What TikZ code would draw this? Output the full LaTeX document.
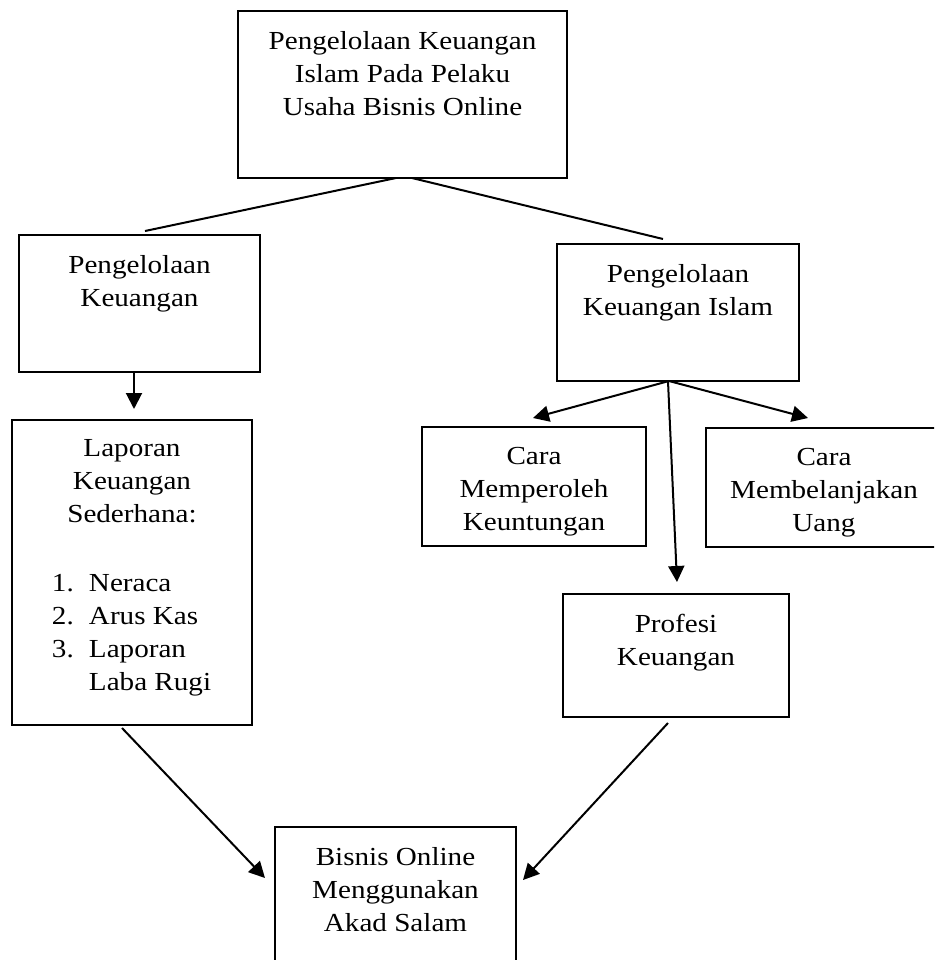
\documentclass[tikz,border=0pt]{standalone}
\usepackage{fontspec}
\setmainfont{Liberation Serif}[FakeStretch=1.12]
\usepackage{tikz}
\usetikzlibrary{arrows.meta,positioning}
\tikzset{huruf/.style={font=\fontsize{13}{16.5}\selectfont}}
\tikzset{kotak/.style={draw, line width=1pt, inner sep=0, outer sep=0}}
\tikzset{teks/.style={inner sep=0, outer sep=0, align=center, huruf}}
\tikzset{garis/.style={line width=1pt}}
\tikzset{panah/.style={-{Triangle[length=8pt, width=8pt]}, line width=1pt}}

\begin{document}
\begin{tikzpicture}[x=0.5pt, y=-0.5pt]
            \useasboundingbox (0,0) rectangle (934,960);
            \clip (0,0) rectangle (934,960);

            \node[kotak, minimum width=164.5pt, minimum height=83.5pt] (atas) at (402.5,94.5) {};

            \node[kotak, minimum width=120.5pt, minimum height=68.5pt, below=28.5pt of atas.south, xshift=-131.5pt] (kiri) {};
            \node[kotak, minimum width=121pt, minimum height=68.5pt, below=33pt of atas.south, xshift=137.75pt] (kanan) {};

            \node[kotak, minimum width=120pt, minimum height=152.5pt, below=24pt of kiri.south, xshift=-3.75pt] (laporan) {};

            \node[kotak, minimum width=112pt, minimum height=59.5pt, below=23pt of kanan.south, xshift=-72pt] (peroleh) {};
            \node[kotak, minimum width=118pt, minimum height=59.5pt, below=23.5pt of kanan.south, xshift=73pt] (belanja) {};
            \node[kotak, minimum width=113pt, minimum height=61.5pt, below=106.5pt of kanan.south, xshift=-1pt] (profesi) {};

            \node[kotak, minimum width=120.5pt, minimum height=81.5pt, below=51pt of laporan.south, xshift=131.75pt] (bisnis) {};

            \node[teks, below=10pt of atas.north] (t-atas) {Pengelolaan Keuangan\\Islam Pada Pelaku\\Usaha Bisnis Online};
            \node[teks, below=10pt of kiri.north] (t-kiri) {Pengelolaan\\Keuangan};
            \node[teks, below=10pt of kanan.north] (t-kanan) {Pengelolaan\\Keuangan Islam};
            \node[teks, below=9.5pt of laporan.north] (t-laporan) {Laporan\\Keuangan\\Sederhana:};
            \node[huruf, inner sep=0, outer sep=0, below right=74pt and 20pt of laporan.north west] (t-daftar) {\begin{tabular}{@{}p{18.5pt}@{}l@{}}1.&Neraca\\2.&Arus Kas\\3.&Laporan\\&Laba Rugi\end{tabular}};
            % teks yang terpotong di bawah kotak
            \begin{scope}
                \clip (peroleh.north west) rectangle ([yshift=5.5pt]peroleh.south east);
                \node[teks, below=10pt of peroleh.north] (t-peroleh) {Cara\\Memperoleh\\Keuntungan};
            \end{scope}
            \begin{scope}
                \clip (belanja.north west) rectangle ([yshift=5pt]belanja.south east);
                \node[teks, below=10pt of belanja.north] (t-belanja) {Cara\\Membelanjakan\\Uang};
            \end{scope}
            \node[teks, below=10pt of profesi.north] (t-profesi) {Profesi\\Keuangan};
            \node[teks, below=10pt of bisnis.north] (t-bisnis) {Bisnis Online\\Menggunakan\\Akad Salam};

            \draw[garis] ([xshift=-3.25pt]atas.south) -- ([xshift=2.75pt, yshift=2pt]kiri.north);
            \draw[garis] ([xshift=4.75pt]atas.south) -- ([xshift=-7.5pt, yshift=2.5pt]kanan.north);

            \draw[panah] ([xshift=-2.75pt]kiri.south) -- ([xshift=1pt, yshift=5.5pt]laporan.north);

            \draw[panah] ([xshift=-4.5pt]kanan.south) -- ([xshift=-0.5pt, yshift=4.5pt]peroleh.north);
            \draw[panah] ([xshift=-4.5pt]kanan.south) -- ([xshift=-8pt, yshift=5pt]belanja.north);
            \draw[panah] ([xshift=-5pt]kanan.south) -- ([xshift=0.5pt, yshift=6pt]profesi.north);

            \draw[panah] ([xshift=-5pt, yshift=-1.5pt]laporan.south) -- ([xshift=-5pt, yshift=-25.5pt]bisnis.north west);
            \draw[panah] ([xshift=-4pt, yshift=-3pt]profesi.south) -- ([xshift=3.5pt, yshift=-26.5pt]bisnis.north east);

        \end{tikzpicture}
\end{document}
